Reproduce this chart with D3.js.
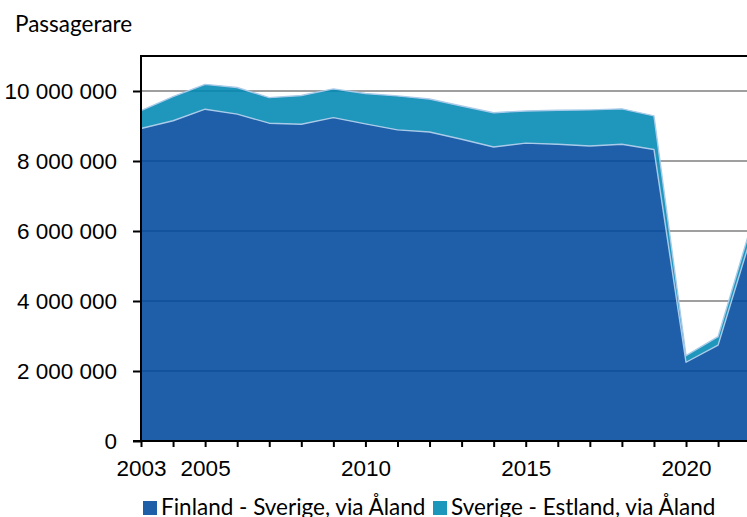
<!DOCTYPE html>
<html>
<head>
<meta charset="utf-8">
<script src="https://cdn.jsdelivr.net/npm/d3@7"></script>
<style>
  html, body { margin: 0; padding: 0; background: #fff; }
  svg { display: block; font-family: Lato, "Open Sans", sans-serif; }
</style>
</head>
<body>
<svg id="chart" width="747" height="517"></svg>
<script>
// ---- data ----
const years = [2003, 2004, 2005, 2006, 2007, 2008, 2009, 2010, 2011, 2012,
               2013, 2014, 2015, 2016, 2017, 2018, 2019, 2020, 2021, 2022];
const finlandSverige = [8930000, 9150000, 9480000, 9340000, 9080000, 9050000, 9240000, 9060000, 8890000, 8830000,
                        8620000, 8400000, 8510000, 8480000, 8430000, 8480000, 8330000, 2250000, 2740000, 5750000];
const sverigeEstland = [510000, 690000, 710000, 760000, 730000, 820000, 820000, 870000, 970000, 940000,
                        950000, 980000, 920000, 970000, 1030000, 1010000, 960000, 190000, 240000, 300000];
const seriesNames = ["Finland - Sverige, via Åland", "Sverige - Estland, via Åland"];
const yTicks = [0, 2000000, 4000000, 6000000, 8000000, 10000000];
const xLabelYears = [2003, 2005, 2010, 2015, 2020];
const yTitle = "Passagerare";

(function () {
// ---- layout ----
const svg = d3.select("#chart");
const pLeft = 141, pBottom = 441, pTop = 56;
const yearStep = 32.06;
const fs = 22.5;
const x = d3.scaleLinear().domain([2003, 2022]).range([pLeft, pLeft + 19 * yearStep]);
const y = d3.scaleLinear().domain([0, 11000000]).range([pBottom, pTop]);

const colors = ["rgb(0,72,156)", "rgb(0,136,178)"];
const legendColors = ["#1f5fa8", "#1c96bb"];

const rows = years.map((yr, i) => ({ year: yr, fs: finlandSverige[i], se: sverigeEstland[i] }));
const stacked = d3.stack().keys(["fs", "se"])(rows);

// gridlines
svg.append("g").selectAll("line")
  .data(yTicks.filter(d => d > 0))
  .join("line")
  .attr("x1", pLeft).attr("x2", 747)
  .attr("y1", d => y(d)).attr("y2", d => y(d))
  .attr("stroke", "#7f7f7f").attr("stroke-width", 1.6);

// areas
const area = d3.area()
  .x(d => x(d.data.year))
  .y0(d => y(d[0]))
  .y1(d => y(d[1]));
const topLine = d3.line()
  .x(d => x(d.data.year))
  .y(d => y(d[1]));

const g = svg.append("g");
[1, 0].forEach(k => {
  g.append("path")
    .attr("d", area(stacked[k]))
    .attr("fill", colors[k])
    .attr("fill-opacity", 0.88);
});
[1, 0].forEach(k => {
  g.append("path")
    .attr("d", topLine(stacked[k]))
    .attr("fill", "none")
    .attr("stroke", "#a9cbe9")
    .attr("stroke-width", 1.4)
    .attr("stroke-linejoin", "round");
});

// frame top
svg.append("line").attr("x1", pLeft - 1).attr("x2", 747).attr("y1", pTop).attr("y2", pTop)
  .attr("stroke", "#000").attr("stroke-width", 2);

// y axis
const fmt = v => d3.format(",")(v).replace(/,/g, " ");
const yAxis = svg.append("g")
  .attr("transform", `translate(${pLeft},0)`)
  .call(d3.axisLeft(y).tickValues(yTicks).tickSize(8).tickPadding(16).tickFormat(fmt));
yAxis.select(".domain").remove();
yAxis.selectAll(".tick line").attr("stroke", "#000").attr("stroke-width", 2);
yAxis.selectAll("text").attr("font-size", fs).attr("fill", "#000");

// x axis
const xAxis = svg.append("g")
  .attr("transform", `translate(0,${pBottom})`)
  .call(d3.axisBottom(x).tickValues(years).tickSize(6).tickPadding(13)
    .tickFormat(d => xLabelYears.includes(d) ? String(d) : ""));
xAxis.select(".domain").remove();
xAxis.selectAll(".tick line").attr("stroke", "#000").attr("stroke-width", 2);
xAxis.selectAll("text").attr("font-size", fs).attr("fill", "#000");

svg.append("line").attr("x1", pLeft).attr("x2", pLeft).attr("y1", pTop - 1).attr("y2", pBottom + 1)
  .attr("stroke", "#000").attr("stroke-width", 2);
svg.append("line").attr("x1", pLeft - 8).attr("x2", 747).attr("y1", pBottom).attr("y2", pBottom)
  .attr("stroke", "#000").attr("stroke-width", 2);

// y title
svg.append("text").attr("x", 15).attr("y", 32).attr("font-size", fs).attr("fill", "#000").text(yTitle);

// legend
const legendX = [143, 433];
seriesNames.forEach((name, i) => {
  svg.append("rect").attr("x", legendX[i]).attr("y", 501).attr("width", 14).attr("height", 14)
    .attr("fill", legendColors[i]);
  svg.append("text").attr("x", legendX[i] + 18).attr("y", 515).attr("font-size", fs)
    .attr("fill", "#000").text(name);
});
})();
</script>
</body>
</html>
